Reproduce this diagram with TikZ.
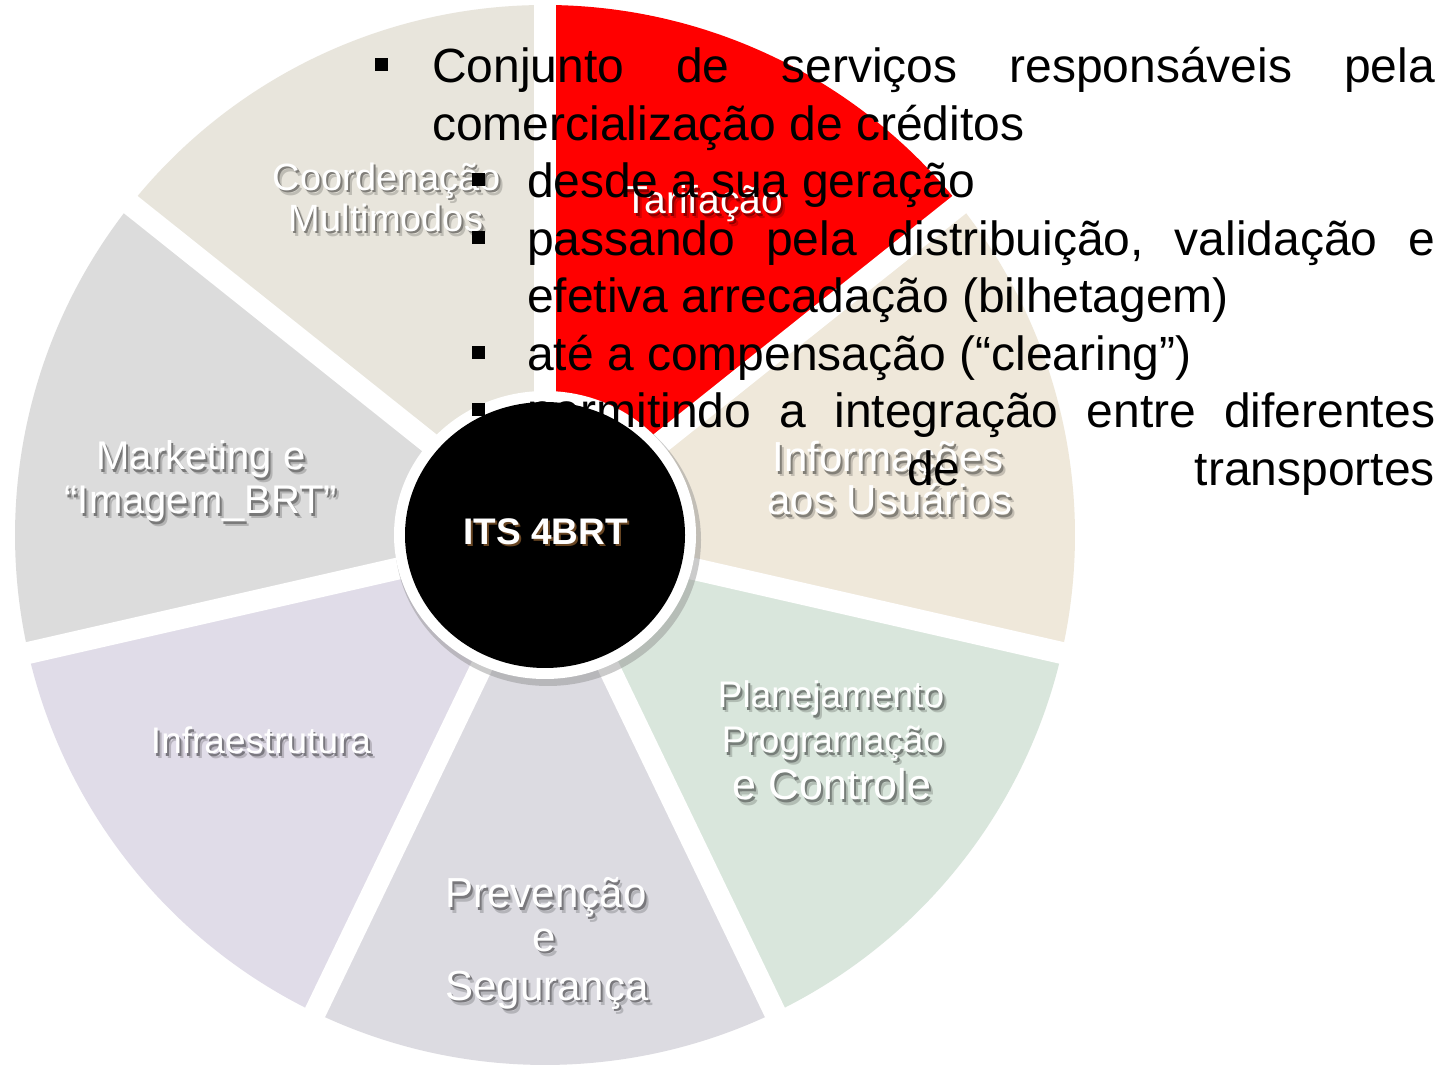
\documentclass[tikz,border=0pt]{standalone}
\usepackage{fontspec}
\setmainfont{Liberation Sans}
\usetikzlibrary{calc}
\definecolor{cTar}{HTML}{FF0000}
\definecolor{cInfo}{HTML}{EFE8DA}
\definecolor{cPlan}{HTML}{D9E6DC}
\definecolor{cPrev}{HTML}{DCDBE1}
\definecolor{cInfra}{HTML}{E0DCE8}
\definecolor{cMkt}{HTML}{DCDCDC}
\definecolor{cCoord}{HTML}{E8E5DC}
\tikzset{
  mtext/.style={font=\fontsize{48}{57.5}\selectfont, anchor=base west, inner sep=0pt, text=black},
  mtextr/.style={mtext, anchor=base east},
  bul/.style={rectangle, fill=black, minimum size=13pt, inner sep=0pt, draw=none},
  lab/.style={anchor=base, inner sep=0pt},
  gapline/.style={white, line width=22pt},
}
\newcommand\shtext[2]{%
  \makebox[0pt][l]{\hspace*{4pt}\raisebox{-5pt}{\textcolor{#1!82!black}{#2}}}%
  \makebox[0pt][l]{\hspace*{2pt}\raisebox{-2.5pt}{\textcolor{#1!55!black}{#2}}}%
  \textcolor{white}{#2}}
\newcommand\seglabel[6]{%
  \node[lab, font=\fontsize{#4}{#4}\selectfont] (#1) at (#2,#3) {\shtext{#5}{#6}};
}
\begin{document}
\begin{tikzpicture}[x=1pt,y=1pt]
\useasboundingbox (0,0) rectangle (1454,1069);
\fill[white] (0,0) rectangle (1454,1069);
\coordinate (C) at (545,534);
% slices
\foreach \c [count=\i from 0] in {cTar,cInfo,cPlan,cPrev,cInfra,cMkt,cCoord} {
  \pgfmathsetmacro\a{90-360/7*\i}
  \fill[\c] (C) -- ++(\a:530) arc[start angle=\a, end angle=\a-360/7, radius=530] -- cycle;
}
\foreach \i in {0,...,6} {
  \draw[gapline] (C) -- ++({90-360/7*\i}:560);
}
% central circle
\fill[black!45, opacity=.45] (548,529) ellipse [x radius=153, y radius=146];
\fill[white] (C) ellipse [x radius=151, y radius=144];
\fill[black] (C) ellipse [x radius=140, y radius=133];
\node[lab, font=\bfseries\fontsize{37}{37}\selectfont] (its) at (545.5,524)
  {\makebox[0pt][l]{\hspace*{2pt}\raisebox{-2pt}{\textcolor{brown!55!black}{ITS 4BRT}}}\textcolor{white}{ITS 4BRT}};
% segment labels
\seglabel{tar}{704}{855}{39}{cTar}{Tarifação}
\seglabel{coordA}{387}{878.5}{38}{cCoord}{Coordenação}
\seglabel{coordB}{386}{837.5}{38}{cCoord}{Multimodos}
\seglabel{mktA}{201}{599}{40}{cMkt}{Marketing e}
\seglabel{mktB}{201}{555}{40}{cMkt}{“Imagem\_BRT”}
\seglabel{infra}{261}{315}{37}{cInfra}{Infraestrutura}
\seglabel{prevA}{546}{161}{42}{cPrev}{Prevenção}
\seglabel{prevB}{544}{118}{42}{cPrev}{e}
\seglabel{prevC}{547}{69}{42}{cPrev}{Segurança}
\seglabel{planA}{831}{361}{37}{cPlan}{Planejamento}
\seglabel{planB}{833}{316}{37}{cPlan}{Programação}
\seglabel{planC}{832}{269}{43}{cPlan}{e Controle}
\seglabel{infoA}{888}{597}{42}{cInfo}{Informações}
\seglabel{infoB}{890}{554}{42}{cInfo}{aos Usuários}
% main text
\node[bul] (b1) at (381.5,1004) {};
\node[mtext] (l1) at (432,986) {\makebox[1003pt][l]{Conjunto\hfill de\hfill serviços\hfill responsáveis\hfill pela}};
\node[mtext] (l2) at (432,928.5) {comercialização de créditos};
\node[bul] (b3) at (478.5,889) {};
\node[mtext] (l3) at (527,871) {desde a sua geração};
\node[bul] (b4) at (478.5,831.5) {};
\node[mtext] (l4) at (527,813.5) {\makebox[908pt][l]{passando\hfill pela\hfill distribuição,\hfill validação\hfill e}};
\node[mtext] (l5) at (527,756) {efetiva arrecadação (bilhetagem)};
\node[bul] (b6) at (478.5,716.5) {};
\node[mtext] (l6) at (527,698.5) {até a compensação (“clearing”)};
\node[bul] (b7) at (478.5,659) {};
\node[mtext] (l7) at (527,641) {\makebox[908pt][l]{permitindo\hfill a\hfill integração\hfill entre\hfill diferentes}};
\node[mtext] (l8a) at (907,583.5) {de};
\node[mtextr] (l8b) at (1435,583.5) {transportes};
\end{tikzpicture}
\end{document}
